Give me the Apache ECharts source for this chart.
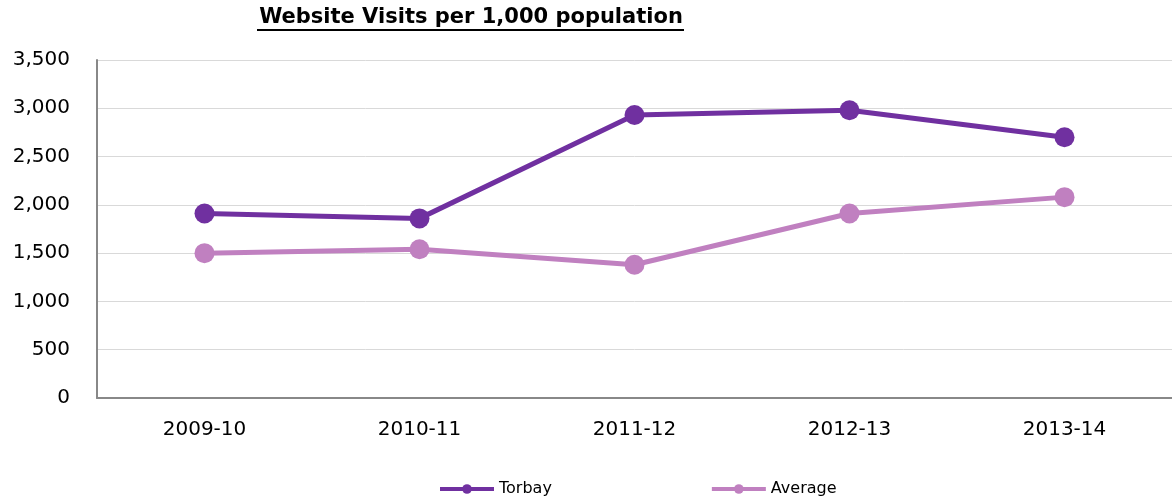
<!DOCTYPE html>
<html><head><meta charset="utf-8">
<script src="https://cdn.jsdelivr.net/npm/echarts@6/dist/echarts.min.js"></script>
<style>html,body{margin:0;padding:0;background:#fff}#c{width:1172px;height:499px}</style>
</head><body><div id="c"></div>
<script>
const categories = ['2009-10','2010-11','2011-12','2012-13','2013-14'];
const torbay = [1910, 1860, 2930, 2980, 2700];
const average = [1500, 1540, 1380, 1910, 2080];
const titleText = 'Website Visits per 1,000 population';

const chart = echarts.init(document.getElementById('c'));
chart.setOption({
  animation: false,
  title: {
    text: titleText, left: 466, top: 2, textAlign: 'center',
    textStyle: {fontFamily: 'DejaVu Sans', fontWeight: 'bold', fontSize: 21, color: '#000'}
  },
  graphic: [{
    type: 'line', shape: {x1: 257, y1: 30, x2: 684, y2: 30},
    style: {stroke: '#000', lineWidth: 2}
  }],
  legend: {
    top: 476, left: 433, itemGap: 158, itemWidth: 54, itemHeight: 12,
    lineStyle: {width: 4},
    textStyle: {fontFamily: 'DejaVu Sans', fontSize: 16, color: '#000'},
    data: ['Torbay','Average']
  },
  grid: {left: 97, top: 60, width: 1080, height: 338},
  xAxis: {
    type: 'category', data: categories, boundaryGap: true,
    axisLine: {lineStyle: {color: '#888', width: 2}},
    axisTick: {show: false},
    axisLabel: {fontFamily: 'DejaVu Sans', fontSize: 20, color: '#000', margin: 22}
  },
  yAxis: {
    type: 'value', min: 0, max: 3500, interval: 500,
    axisLine: {show: true, lineStyle: {color: '#888', width: 2}},
    axisTick: {show: false},
    splitLine: {lineStyle: {color: '#d9d9d9', width: 1}},
    axisLabel: {fontFamily: 'DejaVu Sans', fontSize: 20, color: '#000', margin: 27,
      padding: [6, 0, 0, 0],
      formatter: v => v.toLocaleString('en-US')}
  },
  series: [
    {name: 'Torbay', type: 'line', data: torbay, color: '#7030A0',
     symbol: 'circle', symbolSize: 20, lineStyle: {width: 5}},
    {name: 'Average', type: 'line', data: average, color: '#C080C0',
     symbol: 'circle', symbolSize: 20, lineStyle: {width: 5}}
  ]
});
</script></body></html>
